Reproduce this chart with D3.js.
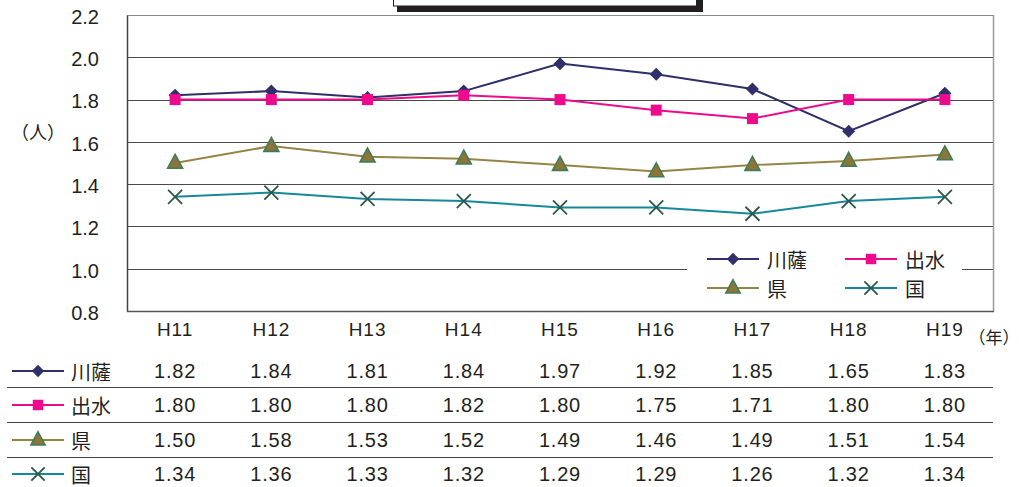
<!DOCTYPE html>
<html>
<head>
<meta charset="utf-8">
<script src="https://cdn.jsdelivr.net/npm/d3@7"></script>
<style>
  html, body { margin: 0; padding: 0; background: #fff; }
  svg { display: block; }
  text { font-family: "Liberation Sans", "Noto Sans CJK JP", sans-serif; fill: #231f20; }
  text.jp { font-family: "Noto Sans CJK JP", sans-serif; }
</style>
</head>
<body>
<svg id="chart" width="1019" height="487"></svg>
<script>
// 合計特殊出生率の推移
const years = ["H11", "H12", "H13", "H14", "H15", "H16", "H17", "H18", "H19"];
const satsumasendai = [1.82, 1.84, 1.81, 1.84, 1.97, 1.92, 1.85, 1.65, 1.83];
const izumi = [1.80, 1.80, 1.80, 1.82, 1.80, 1.75, 1.71, 1.80, 1.80];
const prefecture = [1.50, 1.58, 1.53, 1.52, 1.49, 1.46, 1.49, 1.51, 1.54];
const nation = [1.34, 1.36, 1.33, 1.32, 1.29, 1.29, 1.26, 1.32, 1.34];
const yTicks = [0.8, 1.0, 1.2, 1.4, 1.6, 1.8, 2.0, 2.2];

const series = [
  { name: "川薩", values: satsumasendai, line: "#2f2f6a", marker: "diamond", fill: "#2f2f6a", stroke: "#2f2f6a" },
  { name: "出水", values: izumi, line: "#ee0a8c", marker: "square", fill: "#ee0a8c", stroke: "#ee0a8c" },
  { name: "県", values: prefecture, line: "#968446", marker: "triangle", fill: "#8c7536", stroke: "#3f7d58" },
  { name: "国", values: nation, line: "#17889a", marker: "cross", fill: "none", stroke: "#2c5846" }
];

const svg = d3.select("#chart");
const plot = { left: 127, right: 993, top: 15, bottom: 311 };

const x = d3.scaleBand().domain(years).range([plot.left, plot.right]);
const y = d3.scaleLinear().domain([0.8, 2.2]).range([plot.bottom, plot.top]);
const cx = d => x(d) + x.bandwidth() / 2;

// 上部の見出し枠（影付き）
svg.append("rect").attr("x", 397).attr("y", -4).attr("width", 306).attr("height", 16).attr("fill", "#231f20");
svg.append("rect").attr("x", 393.5).attr("y", -4).attr("width", 303).attr("height", 10).attr("fill", "#fff").attr("stroke", "#231f20").attr("stroke-width", 1);

// 目盛線
svg.append("g")
  .selectAll("line")
  .data(yTicks.slice(1))
  .join("line")
  .attr("x1", plot.left).attr("x2", plot.right)
  .attr("y1", d => Math.round(y(d)) + 0.5).attr("y2", d => Math.round(y(d)) + 0.5)
  .attr("stroke", d => d === 2.2 ? "#8a8a8a" : "#4a4a4a")
  .attr("stroke-width", 1.2);

// 枠線
svg.append("line").attr("x1", plot.right + 0.5).attr("x2", plot.right + 0.5)
  .attr("y1", plot.top).attr("y2", plot.bottom).attr("stroke", "#9a9a9a").attr("stroke-width", 1.5);
svg.append("line").attr("x1", plot.left).attr("x2", plot.right + 1)
  .attr("y1", plot.bottom + 0.5).attr("y2", plot.bottom + 0.5).attr("stroke", "#555").attr("stroke-width", 1.3);

// Y軸
const yAxis = d3.axisLeft(y).tickValues(yTicks).tickFormat(d3.format(".1f")).tickSize(0).tickPadding(28);
const yg = svg.append("g").attr("transform", `translate(${plot.left},0)`).call(yAxis);
yg.select(".domain").attr("stroke", "#444").attr("stroke-width", 1.5);
yg.selectAll("text").attr("font-size", 20).attr("fill", "#231f20").attr("dy", "0.42em")
  .style("font-family", "'Liberation Sans', sans-serif");

svg.append("text").attr("class", "jp").attr("x", 38).attr("y", 131).attr("text-anchor", "middle")
  .attr("dominant-baseline", "central").attr("font-size", 18).text("（人）");

// X軸ラベル
const xAxis = d3.axisBottom(x).tickSize(0).tickPadding(12);
const xg = svg.append("g").attr("transform", `translate(0,${plot.bottom})`).call(xAxis);
xg.select(".domain").remove();
xg.selectAll("text").attr("font-size", 19).attr("fill", "#231f20").attr("letter-spacing", 1)
  .style("font-family", "'Liberation Sans', sans-serif");
svg.append("text").attr("class", "jp").attr("x", 994).attr("y", 336).attr("text-anchor", "middle")
  .attr("dominant-baseline", "central").attr("font-size", 17).text("（年）");

// マーカー描画
function drawMarker(g, s, px, py, scale) {
  const k = scale || 1;
  if (s.marker === "diamond") {
    const r = 6.5 * k;
    g.append("path").attr("d", `M${px},${py - r}L${px + r},${py}L${px},${py + r}L${px - r},${py}Z`)
      .attr("fill", s.fill);
  } else if (s.marker === "square") {
    const r = 5.5 * k;
    g.append("rect").attr("x", px - r).attr("y", py - r).attr("width", 2 * r).attr("height", 2 * r)
      .attr("fill", s.fill);
  } else if (s.marker === "triangle") {
    const r = 7.5 * k;
    g.append("path").attr("d", `M${px},${py - r * 1.15}L${px + r},${py + r * 0.7}L${px - r},${py + r * 0.7}Z`)
      .attr("fill", s.fill).attr("stroke", s.stroke).attr("stroke-width", 1.6);
  } else if (s.marker === "cross") {
    const r = 7 * k;
    g.append("path").attr("d", `M${px - r},${py - r}L${px + r},${py + r}M${px + r},${py - r}L${px - r},${py + r}`)
      .attr("stroke", s.stroke).attr("stroke-width", 1.8).attr("fill", "none");
  }
}

// 系列の折れ線とマーカー
const lineGen = d3.line().x((d, i) => cx(years[i])).y(d => y(d));
const drawOrder = [series[3], series[2], series[0], series[1]];
drawOrder.forEach(s => {
  const g = svg.append("g");
  g.append("path").datum(s.values).attr("d", lineGen)
    .attr("fill", "none").attr("stroke", s.line).attr("stroke-width", 2);
  s.values.forEach((v, i) => drawMarker(g, s, cx(years[i]), y(v)));
});

// 凡例
svg.append("rect").attr("x", 687).attr("y", 243).attr("width", 275).attr("height", 56).attr("fill", "#fff");
const legendPos = [
  { lx: 707, ty: 259 }, { lx: 845, ty: 259 }, { lx: 707, ty: 288 }, { lx: 845, ty: 288 }
];
series.forEach((s, i) => {
  const p = legendPos[i];
  const g = svg.append("g");
  g.append("line").attr("x1", p.lx).attr("x2", p.lx + 52).attr("y1", p.ty).attr("y2", p.ty)
    .attr("stroke", s.line).attr("stroke-width", 2);
  drawMarker(g, s, p.lx + 26, p.ty, 0.95);
  g.append("text").attr("class", "jp").attr("x", p.lx + 60).attr("y", p.ty).attr("dominant-baseline", "central")
    .attr("font-size", 20).text(s.name);
});

// データ表
const rowY = [371, 405, 440, 474];
series.forEach((s, i) => {
  const ry = rowY[i];
  const g = svg.append("g");
  g.append("line").attr("x1", 12).attr("x2", 64).attr("y1", ry).attr("y2", ry)
    .attr("stroke", s.line).attr("stroke-width", 2);
  drawMarker(g, s, 38, ry, 0.95);
  g.append("text").attr("class", "jp").attr("x", 71).attr("y", ry).attr("dominant-baseline", "central")
    .attr("font-size", 20).text(s.name);
  g.selectAll("text.val").data(s.values).join("text").attr("class", "val")
    .attr("x", (d, j) => cx(years[j])).attr("y", ry + 7).attr("text-anchor", "middle")
    .attr("font-size", 20).attr("letter-spacing", 0.8).text(d => d.toFixed(2));
});
svg.append("g").selectAll("line").data([387, 422, 457]).join("line")
  .attr("x1", 7).attr("x2", plot.right).attr("y1", d => d + 0.5).attr("y2", d => d + 0.5)
  .attr("stroke", "#444").attr("stroke-width", 1);
</script>
</body>
</html>
